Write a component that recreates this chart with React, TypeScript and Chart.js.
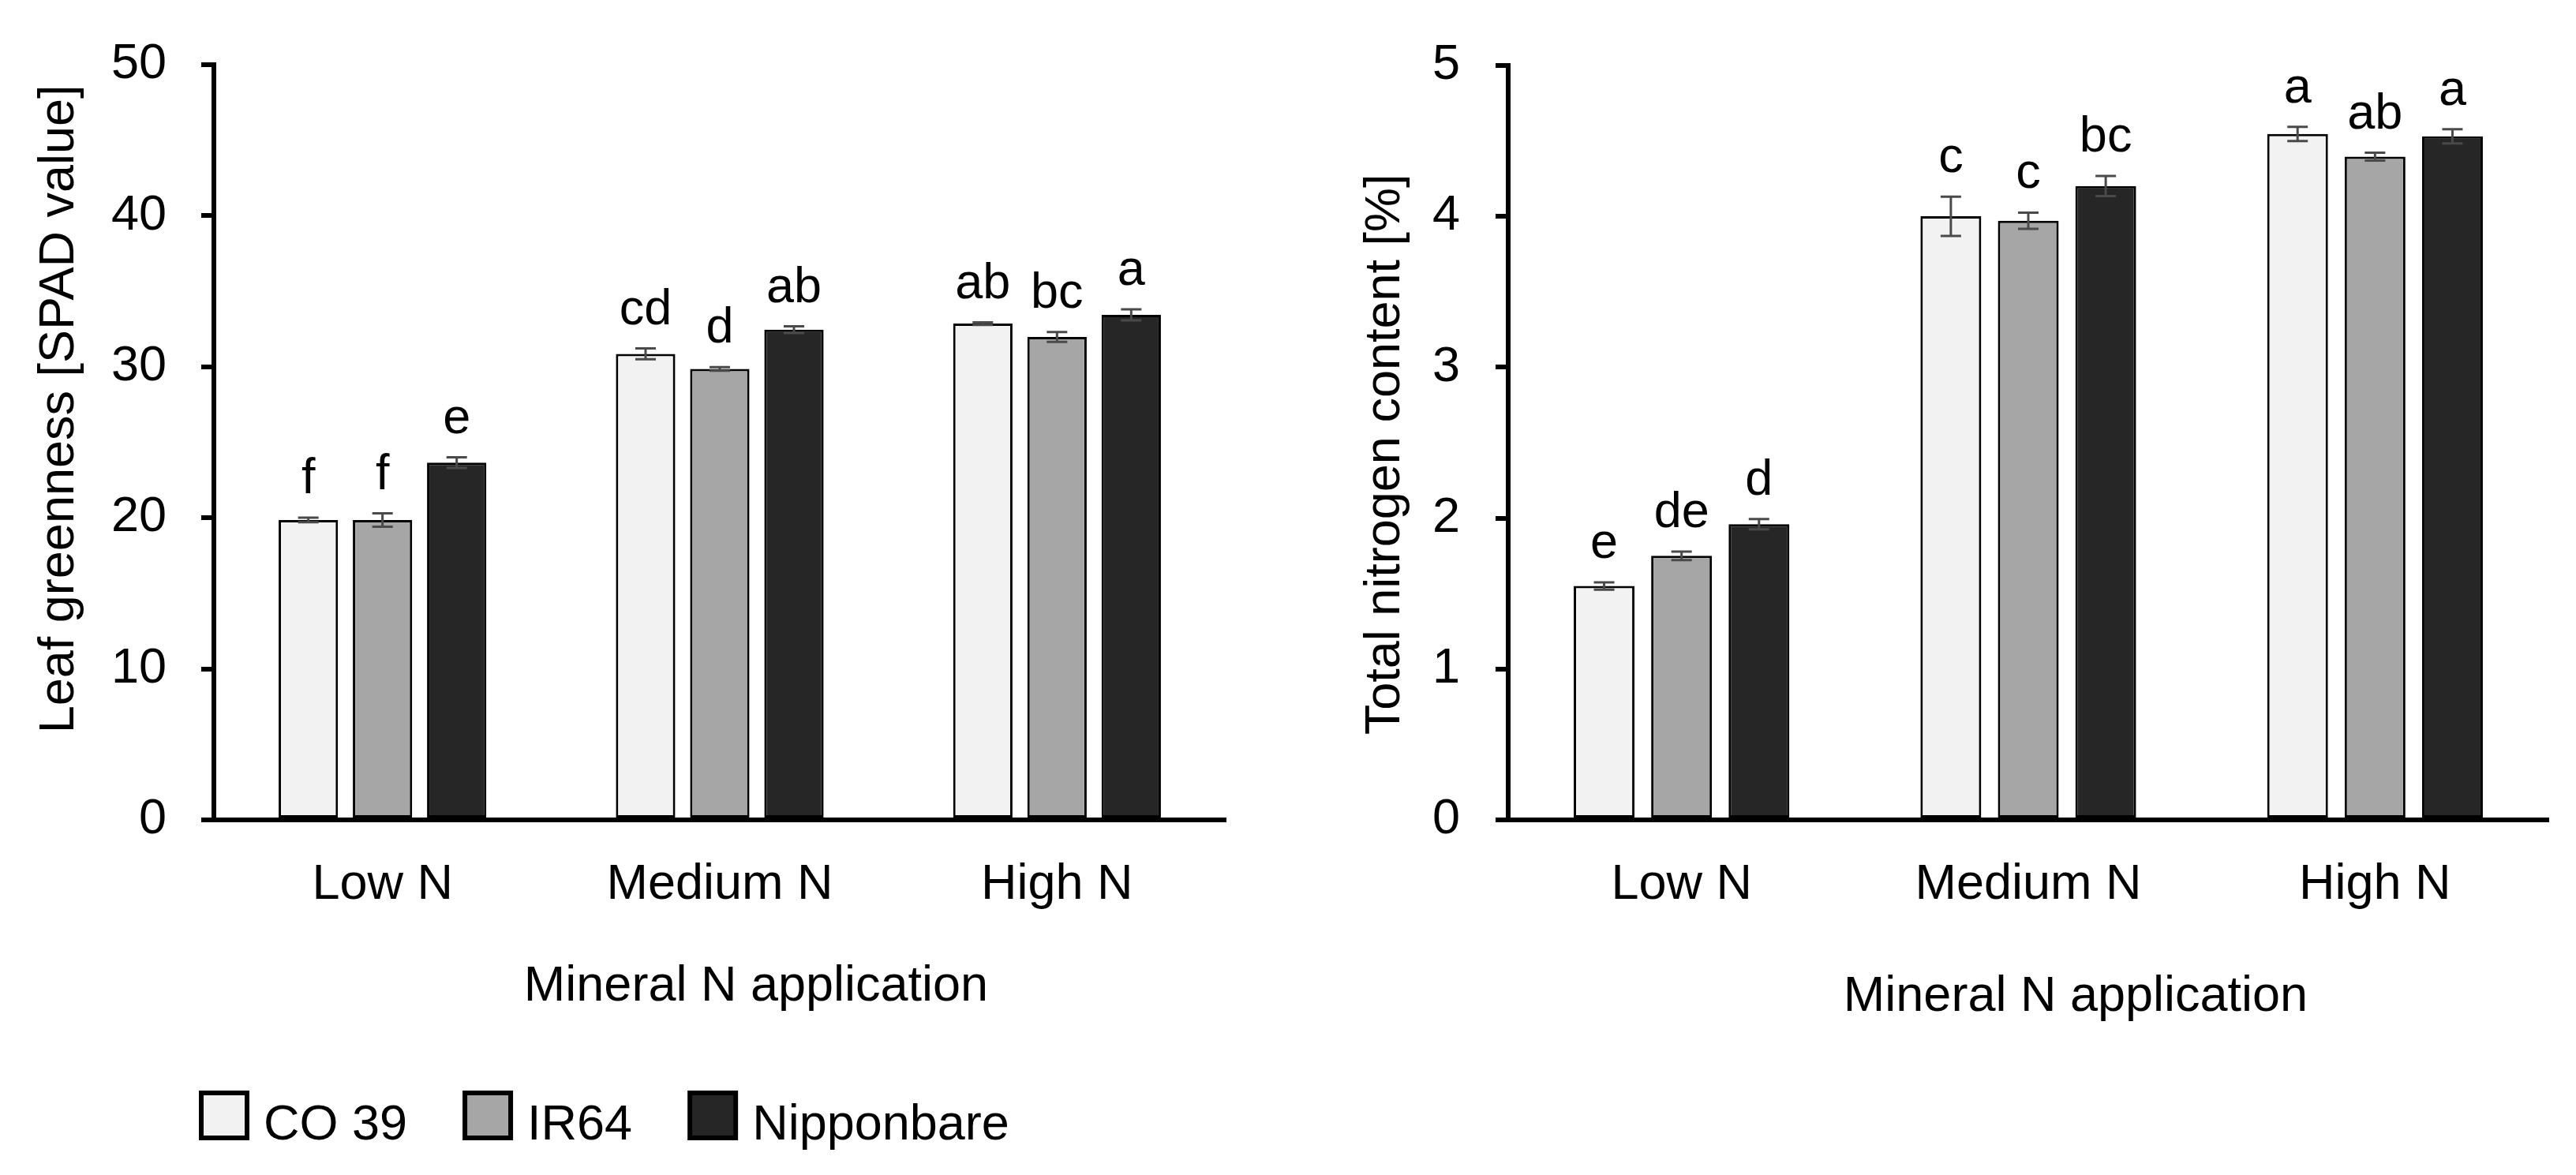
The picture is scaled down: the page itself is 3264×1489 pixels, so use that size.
import React, { useEffect, useRef } from 'react';
import { Chart, registerables } from 'chart.js';

Chart.register(...registerables);

// ---------- data ----------
const categories = ['Low N', 'Medium N', 'High N'];
const cultivars = ['CO 39', 'IR64', 'Nipponbare'];
const barColors = ['#f2f2f2', '#a6a6a6', '#262626'];

// Leaf greenness [SPAD value]
const spadCO39 = [19.85, 30.85, 32.85];
const spadIR64 = [19.85, 29.85, 31.97];
const spadNipponbare = [23.65, 32.45, 33.43];
const spadErrCO39 = [0.15, 0.36, 0.08];
const spadErrIR64 = [0.44, 0.12, 0.33];
const spadErrNipponbare = [0.35, 0.22, 0.36];
const spadLettersCO39 = ['f', 'cd', 'ab'];
const spadLettersIR64 = ['f', 'd', 'bc'];
const spadLettersNipponbare = ['e', 'ab', 'a'];
const spadAxis = { min: 0, max: 50, step: 10 };

// Total nitrogen content [%]
const nCO39 = [1.55, 4.0, 4.545];
const nIR64 = [1.75, 3.97, 4.395];
const nNipponbare = [1.96, 4.2, 4.53];
const nErrCO39 = [0.024, 0.13, 0.047];
const nErrIR64 = [0.028, 0.054, 0.026];
const nErrNipponbare = [0.034, 0.067, 0.047];
const nLettersCO39 = ['e', 'c', 'a'];
const nLettersIR64 = ['de', 'c', 'ab'];
const nLettersNipponbare = ['d', 'bc', 'a'];
const nAxis = { min: 0, max: 5, step: 1 };

const yTitleLeft = 'Leaf greenness [SPAD value]';
const yTitleRight = 'Total nitrogen content [%]';
const xTitle = 'Mineral N application';

// ---------- styling ----------
const FONT = "'Liberation Sans', Arial, Helvetica, sans-serif";
const FS = 63;
const W = 1632;
const H = 1489;

const annotPlugin = {
  id: 'annot',
  afterDatasetsDraw(chart: any, _args: any, opts: any) {
    const { ctx } = chart;
    const y = chart.scales.y;
    chart.data.datasets.forEach((ds: any, di: number) => {
      const meta = chart.getDatasetMeta(di);
      meta.data.forEach((bar: any, i: number) => {
        const v = ds.data[i];
        const e = opts.errors[di][i];
        const yTop = y.getPixelForValue(v + e);
        const yBot = y.getPixelForValue(v - e);
        ctx.save();
        ctx.strokeStyle = '#4a4a4a';
        ctx.lineWidth = 3;
        ctx.beginPath();
        ctx.moveTo(bar.x, yTop);
        ctx.lineTo(bar.x, yBot);
        ctx.moveTo(bar.x - 13, yTop);
        ctx.lineTo(bar.x + 13, yTop);
        ctx.moveTo(bar.x - 13, yBot);
        ctx.lineTo(bar.x + 13, yBot);
        ctx.stroke();
        ctx.fillStyle = '#000';
        ctx.font = `${FS}px ${FONT}`;
        ctx.textAlign = 'center';
        ctx.textBaseline = 'alphabetic';
        ctx.fillText(opts.letters[di][i], bar.x, yTop - 31);
        ctx.restore();
      });
    });
  },
};

const titlesPlugin = {
  id: 'titles',
  afterDraw(chart: any, _args: any, opts: any) {
    const { ctx, chartArea } = chart;
    ctx.save();
    ctx.fillStyle = '#000';
    ctx.font = `${FS}px ${FONT}`;
    ctx.textAlign = 'center';
    ctx.textBaseline = 'alphabetic';
    // y title (rotated)
    ctx.save();
    ctx.translate(chartArea.left + opts.yDx, (chartArea.top + chartArea.bottom) / 2 + opts.yDy);
    ctx.rotate(-Math.PI / 2);
    ctx.fillText(opts.yText, 0, 0);
    ctx.restore();
    // x title
    ctx.fillText(opts.xText, (chartArea.left + chartArea.right) / 2 + opts.xDx, chartArea.bottom + opts.xDy);
    ctx.restore();
  },
};

const legendPlugin = {
  id: 'customLegend',
  afterDraw(chart: any, _args: any, opts: any) {
    if (!opts || !opts.show) return;
    const { ctx, chartArea } = chart;
    const boxW = 64;
    const boxH = 63;
    const bw = 6;
    const top = chartArea.bottom + 343;
    let x = chartArea.left - 19;
    ctx.save();
    ctx.font = `${FS}px ${FONT}`;
    ctx.textBaseline = 'alphabetic';
    ctx.textAlign = 'left';
    chart.data.datasets.forEach((ds: any) => {
      ctx.fillStyle = '#000';
      ctx.fillRect(x, top, boxW, boxH);
      ctx.fillStyle = ds.backgroundColor;
      ctx.fillRect(x + bw, top + bw, boxW - 2 * bw, boxH - 2 * bw);
      ctx.fillStyle = '#000';
      ctx.fillText(ds.label, x + 82, top + boxH - 1);
      x += 82 + ctx.measureText(ds.label).width + 70;
    });
    ctx.restore();
  },
};

function makeConfig(p: any): any {
  return {
    type: 'bar',
    data: {
      labels: categories,
      datasets: p.series.map((s: number[], k: number) => ({
        label: cultivars[k],
        data: s,
        backgroundColor: barColors[k],
        borderColor: '#000',
        borderWidth: 3,
        borderSkipped: false,
        categoryPercentage: p.cp,
        barPercentage: p.bp,
      })),
    },
    options: {
      animation: false,
      responsive: false,
      devicePixelRatio: 1,
      layout: { padding: { left: 0, right: p.padRight, top: 76, bottom: H - 1039 - 150 } },
      plugins: {
        legend: { display: false },
        tooltip: { enabled: false },
        annot: { errors: p.errors, letters: p.letters },
        titles: { yText: p.yTitle, xText: xTitle, yDx: p.yDx, yDy: p.yDy, xDx: p.xDx, xDy: p.xDy },
        customLegend: { show: p.legend },
      },
      scales: {
        x: {
          grid: { display: false },
          border: { display: true, color: '#000', width: 6, z: 1 },
          ticks: { color: '#000', font: { family: FONT, size: FS }, padding: 37, maxRotation: 0 },
          afterFit: (s: any) => {
            s.height = 150;
          },
        },
        y: {
          min: p.axis.min,
          max: p.axis.max,
          ticks: { stepSize: p.axis.step, color: '#000', font: { family: FONT, size: FS }, padding: p.tickPad },
          grid: { drawOnChartArea: false, drawTicks: true, tickLength: 16, lineWidth: 6, color: '#000' },
          border: { display: true, color: '#000', width: 6, z: 1 },
          afterFit: (s: any) => {
            s.width = p.axisW;
          },
        },
      },
    },
    plugins: [annotPlugin, titlesPlugin, legendPlugin],
  };
}

export default function App() {
  const leftRef = useRef<HTMLCanvasElement>(null);
  const rightRef = useRef<HTMLCanvasElement>(null);

  useEffect(() => {
    const left = new Chart(
      leftRef.current as HTMLCanvasElement,
      makeConfig({
        series: [spadCO39, spadIR64, spadNipponbare],
        errors: [spadErrCO39, spadErrIR64, spadErrNipponbare],
        letters: [spadLettersCO39, spadLettersIR64, spadLettersNipponbare],
        axis: spadAxis,
        yTitle: yTitleLeft,
        cp: 0.66,
        bp: 0.8,
        padRight: 79,
        axisW: 271,
        tickPad: 44,
        yDx: -178,
        yDy: -42,
        xDx: 46,
        xDy: 229,
        legend: true,
      })
    );
    const right = new Chart(
      rightRef.current as HTMLCanvasElement,
      makeConfig({
        series: [nCO39, nIR64, nNipponbare],
        errors: [nErrCO39, nErrIR64, nErrNipponbare],
        letters: [nLettersCO39, nLettersIR64, nLettersNipponbare],
        axis: nAxis,
        yTitle: yTitleRight,
        cp: 0.67,
        bp: 0.785,
        padRight: 35,
        axisW: 279,
        tickPad: 45,
        yDx: -138,
        yDy: 15,
        xDx: 60,
        xDy: 242,
        legend: false,
      })
    );
    return () => {
      left.destroy();
      right.destroy();
    };
  }, []);

  return (
    <div style={{ position: 'fixed', left: 0, top: 0, width: 3264, height: H, background: '#fff' }}>
      <canvas ref={leftRef} width={W} height={H} style={{ position: 'absolute', left: 0, top: 0, width: W, height: H }} />
      <canvas ref={rightRef} width={W} height={H} style={{ position: 'absolute', left: W, top: 0, width: W, height: H }} />
    </div>
  );
}
